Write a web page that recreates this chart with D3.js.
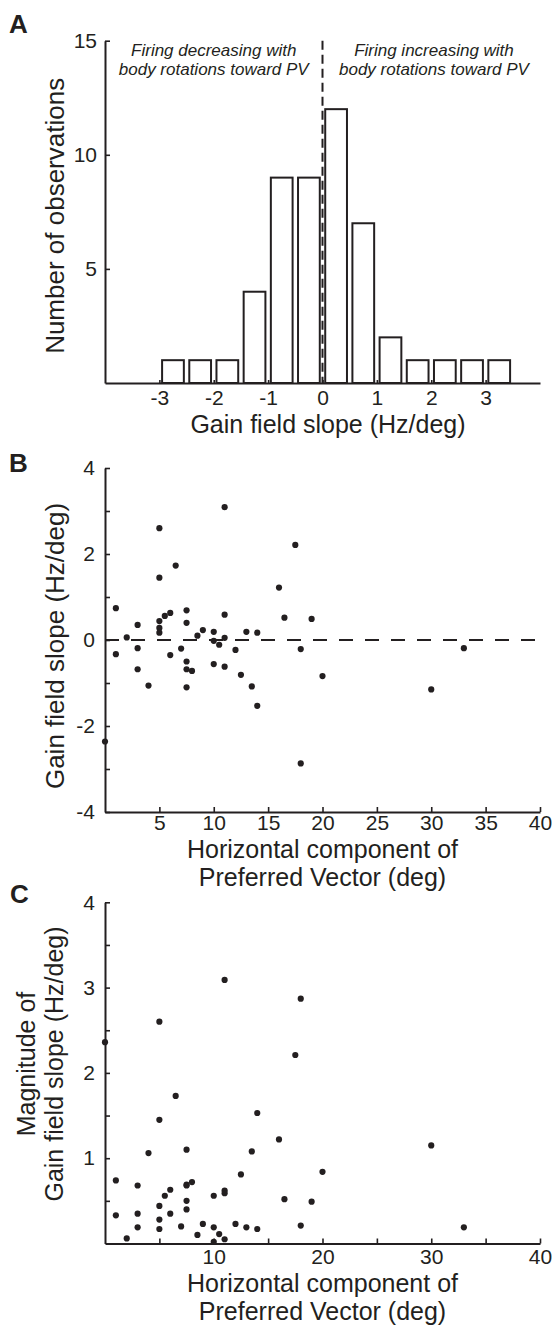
<!DOCTYPE html>
<html>
<head>
<meta charset="utf-8">
<script src="https://cdn.jsdelivr.net/npm/d3@7"></script>
<style>
  body { margin: 0; background: #fff; }
  svg text { font-family: "Liberation Sans", Arial, sans-serif; fill: #231f20; }
</style>
</head>
<body>
<div id="chart"></div>
<script>
// panel A: histogram of gain field slopes (bin centres in Hz/deg, counts)
const binCenters = [-2.75, -2.25, -1.75, -1.25, -0.75, -0.25, 0.25, 0.75, 1.25, 1.75, 2.25, 2.75, 3.25];
const binCounts  = [1, 1, 1, 4, 9, 9, 12, 7, 2, 1, 1, 1, 1];
const slopeTicks = [-3, -2, -1, 0, 1, 2, 3];
const countTicks = [5, 10, 15];

// panels B and C: one value per neuron
const horizComp = [11, 5, 17.5, 6.5, 5, 16, 1, 5.5, 6, 7.5, 11, 16.5, 19, 5, 5, 5, 3, 7.5, 8.5, 9,
  2, 10, 11, 13, 14, 1, 3, 3, 4, 6, 7, 7.5, 7.5, 8, 7.5, 10, 10.5, 10, 11, 12,
  12.5, 13.5, 14, 18, 20, 30, 33, 18, 0];
const gainSlope = [3.09, 2.6, 2.21, 1.73, 1.45, 1.22, 0.74, 0.56, 0.63, 0.69, 0.59, 0.52, 0.49, 0.44, 0.28, 0.17, 0.35, 0.40, 0.10, 0.23,
  0.06, 0.19, 0.05, 0.19, 0.17, -0.33, -0.19, -0.68, -1.06, -0.35, -0.2, -0.5, -0.68, -0.72, -1.1, -0.02, -0.11, -0.56, -0.62, -0.23,
  -0.81, -1.08, -1.53, -0.21, -0.84, -1.15, -0.19, -2.87, -2.36];
const horizTicksB = [5, 10, 15, 20, 25, 30, 35, 40];
const slopeTicksB = [-4, -3, -2, -1, 0, 1, 2, 3, 4];
const horizTicksC = [5, 10, 15, 20, 25, 30, 35, 40];
const magTicksC = [0.5, 1, 1.5, 2, 2.5, 3, 3.5, 4];

const INK = "#231f20";
const FONT = "'Liberation Sans', Arial, sans-serif";
const TICK_FS = 21;
const LABEL_FS = 25;
const LEFT = 105, RIGHT = 540;

const svg = d3.select("#chart")
  .append("svg")
    .attr("width", 554)
    .attr("height", 1329);

function styleAxis(g){
  g.attr("font-size", TICK_FS).attr("font-family", FONT);
  g.select(".domain").attr("stroke", INK).attr("stroke-width", 2);
  g.selectAll(".tick line").attr("stroke", INK).attr("stroke-width", 1.6);
  g.selectAll(".tick text").attr("fill", INK);
}

function panelLetter(txt, x, y){
  svg.append("text")
    .attr("x", x).attr("y", y)
    .attr("font-size", 26)
    .attr("font-weight", "bold")
    .text(txt);
}

// ---------------- panel A ----------------
const xA = d3.scaleLinear().domain([-4, 4]).range([LEFT, RIGHT]);
const yA = d3.scaleLinear().domain([0, 15]).range([383, 40.7]);

panelLetter("A", 9, 33);

svg.append("g")
  .attr("transform", `translate(${LEFT},0)`)
  .call(d3.axisLeft(yA).tickValues(countTicks).tickSizeInner(-5).tickSizeOuter(0).tickPadding(8).tickFormat(String))
  .call(styleAxis);

svg.append("g")
  .attr("transform", `translate(0,${yA(0)})`)
  .call(d3.axisBottom(xA).tickValues(slopeTicks).tickSizeInner(-3).tickSizeOuter(0).tickPadding(7).tickFormat(String))
  .call(styleAxis);

const binW = 0.4;
svg.append("g").selectAll("rect")
  .data(binCenters)
  .enter().append("rect")
    .attr("x", d => xA(d - binW/2))
    .attr("y", (d, i) => yA(binCounts[i]))
    .attr("width", xA(binW) - xA(0))
    .attr("height", (d, i) => yA(0) - yA(binCounts[i]))
    .attr("fill", "#fff")
    .attr("stroke", INK)
    .attr("stroke-width", 2);

svg.append("line")
  .attr("x1", xA(0)).attr("x2", xA(0))
  .attr("y1", yA(15)).attr("y2", yA(0))
  .attr("stroke", INK)
  .attr("stroke-width", 2)
  .attr("stroke-dasharray", "9,5");

// region notes
const notes = [
  { x: -2, lines: ["Firing decreasing with", "body rotations toward PV"] },
  { x: 2.05, lines: ["Firing increasing with", "body rotations toward PV"] }
];
notes.forEach(n => {
  n.lines.forEach((t, i) => {
    svg.append("text")
      .attr("x", xA(n.x))
      .attr("y", 56 + i*19)
      .attr("text-anchor", "middle")
      .attr("font-size", 17)
      .attr("font-style", "italic")
      .text(t);
  });
});

svg.append("text")
  .attr("transform", `translate(64,${(yA(0)+yA(15))/2 + 4}) rotate(-90)`)
  .attr("text-anchor", "middle")
  .attr("font-size", 26)
  .text("Number of observations");

svg.append("text")
  .attr("x", 328)
  .attr("y", 433)
  .attr("text-anchor", "middle")
  .attr("font-size", LABEL_FS)
  .text("Gain field slope (Hz/deg)");

// ---------------- panel B ----------------
const xB = d3.scaleLinear().domain([0, 40]).range([LEFT, RIGHT]);
const yB = d3.scaleLinear().domain([-4, 4]).range([812, 468]);

panelLetter("B", 9, 472);

svg.append("g")
  .attr("transform", `translate(${LEFT},0)`)
  .call(d3.axisLeft(yB).tickValues(slopeTicksB).tickSizeInner(-5).tickSizeOuter(0).tickPadding(10)
    .tickFormat(d => d % 2 === 0 ? String(d) : ""))
  .call(styleAxis);

svg.append("g")
  .attr("transform", `translate(0,${yB(-4)})`)
  .call(d3.axisBottom(xB).tickValues(horizTicksB).tickSizeInner(-5).tickSizeOuter(0).tickPadding(3).tickFormat(String))
  .call(styleAxis);

svg.append("line")
  .attr("x1", xB(0)).attr("x2", xB(40))
  .attr("y1", yB(0)).attr("y2", yB(0))
  .attr("stroke", INK)
  .attr("stroke-width", 2)
  .attr("stroke-dasharray", "14,12");

svg.append("g").selectAll("circle")
  .data(horizComp)
  .enter().append("circle")
    .attr("cx", d => xB(d))
    .attr("cy", (d, i) => yB(gainSlope[i]))
    .attr("r", 3.1)
    .attr("fill", INK);

svg.append("text")
  .attr("transform", `translate(64,${(yB(-4)+yB(4))/2 + 6}) rotate(-90)`)
  .attr("text-anchor", "middle")
  .attr("font-size", 26)
  .text("Gain field slope (Hz/deg)");

["Horizontal component of", "Preferred Vector (deg)"].forEach((t, i) => {
  svg.append("text")
    .attr("x", (LEFT+RIGHT)/2)
    .attr("y", 858 + i*28)
    .attr("text-anchor", "middle")
    .attr("font-size", LABEL_FS)
    .text(t);
});

// ---------------- panel C ----------------
const xC = d3.scaleLinear().domain([0, 40]).range([LEFT, RIGHT]);
const yC = d3.scaleLinear().domain([0, 4]).range([1243.5, 902.3]);

panelLetter("C", 10, 903);

svg.append("g")
  .attr("transform", `translate(${LEFT},0)`)
  .call(d3.axisLeft(yC).tickValues(magTicksC).tickSizeInner(-5).tickSizeOuter(0).tickPadding(10)
    .tickFormat(d => Number.isInteger(d) ? String(d) : ""))
  .call(styleAxis);

svg.append("g")
  .attr("transform", `translate(0,${yC(0)})`)
  .call(d3.axisBottom(xC).tickValues(horizTicksC).tickSizeInner(-5).tickSizeOuter(0).tickPadding(6)
    .tickFormat(d => d % 10 === 0 ? String(d) : ""))
  .call(styleAxis);

svg.append("g").selectAll("circle")
  .data(horizComp)
  .enter().append("circle")
    .attr("cx", d => xC(d))
    .attr("cy", (d, i) => yC(Math.abs(gainSlope[i])))
    .attr("r", 3.1)
    .attr("fill", INK);

["Magnitude of", "Gain field slope (Hz/deg)"].forEach((t, i) => {
  svg.append("text")
    .attr("transform", `translate(${35 + i*28},1064) rotate(-90)`)
    .attr("text-anchor", "middle")
    .attr("font-size", LABEL_FS)
    .text(t);
});

["Horizontal component of", "Preferred Vector (deg)"].forEach((t, i) => {
  svg.append("text")
    .attr("x", (LEFT+RIGHT)/2)
    .attr("y", 1292 + i*28)
    .attr("text-anchor", "middle")
    .attr("font-size", LABEL_FS)
    .text(t);
});
</script>
</body>
</html>
